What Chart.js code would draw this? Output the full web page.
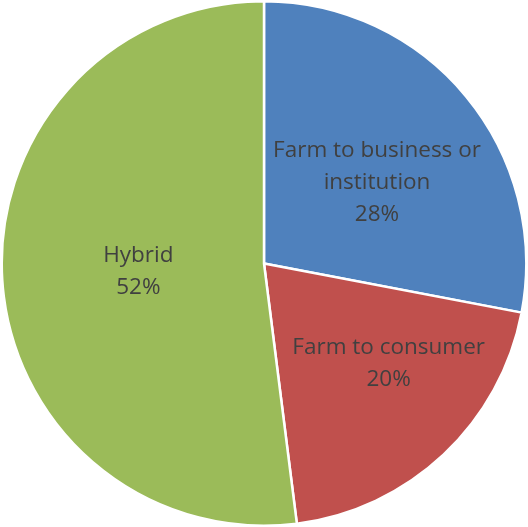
<!DOCTYPE html>
<html>
<head>
<meta charset="utf-8">
<script src="https://cdn.jsdelivr.net/npm/chart.js@4.4.1/dist/chart.umd.min.js"></script>
<style>
  html, body { margin: 0; padding: 0; background: #fff; }
  #wrap { width: 528px; height: 527px; }
</style>
</head>
<body>
<div id="wrap"><canvas id="grafica"></canvas></div>
<script>
// ── Datos ─────────────────────────────────────────────
const categorias = [['Farm to business or', 'institution'], ['Farm to consumer'], ['Hybrid']];
const valores = [28, 20, 52];
const colores = ['#4F81BD', '#C0504D', '#9BBB59'];

// ajuste de las etiquetas: giro (grados) y fraccion del radio
const ajusteEtiquetas = [
  { giro: 4, radio: 0.53 },
  { giro: -8, radio: 0.61 },
  { giro: 0, radio: 0.48 }
];

// ── Etiquetas dentro de cada porcion ──────────────────
const etiquetasPie = {
  id: 'etiquetasPie',
  afterDatasetsDraw(chart) {
    const ctx = chart.ctx;
    const meta = chart.getDatasetMeta(0);
    const total = valores.reduce((a, b) => a + b, 0);
    ctx.save();
    ctx.fillStyle = '#404040';
    ctx.font = '22.5px "Open Sans", "Noto Sans", sans-serif';
    ctx.textAlign = 'center';
    ctx.textBaseline = 'middle';
    meta.data.forEach((arc, i) => {
      const aj = ajusteEtiquetas[i];
      const medio = (arc.startAngle + arc.endAngle) / 2 + aj.giro * Math.PI / 180;
      const r = arc.outerRadius * aj.radio;
      const x = arc.x + Math.cos(medio) * r;
      const y = arc.y + Math.sin(medio) * r;
      const lineas = categorias[i].concat([Math.round(valores[i] / total * 100) + '%']);
      const alto = 32;
      const y0 = y - (lineas.length - 1) * alto / 2;
      lineas.forEach((t, j) => ctx.fillText(t, x, y0 + j * alto));
    });
    ctx.restore();
  }
};

new Chart(document.getElementById('grafica'), {
  type: 'pie',
  data: {
    labels: categorias.map(c => c.join(' ')),
    datasets: [{
      data: valores,
      backgroundColor: colores,
      borderColor: '#ffffff',
      borderWidth: 2.5
    }]
  },
  options: {
    responsive: true,
    maintainAspectRatio: false,
    animation: false,
    layout: { padding: 0 },
    plugins: {
      legend: { display: false },
      tooltip: { enabled: false }
    }
  },
  plugins: [etiquetasPie]
});
</script>
</body>
</html>
